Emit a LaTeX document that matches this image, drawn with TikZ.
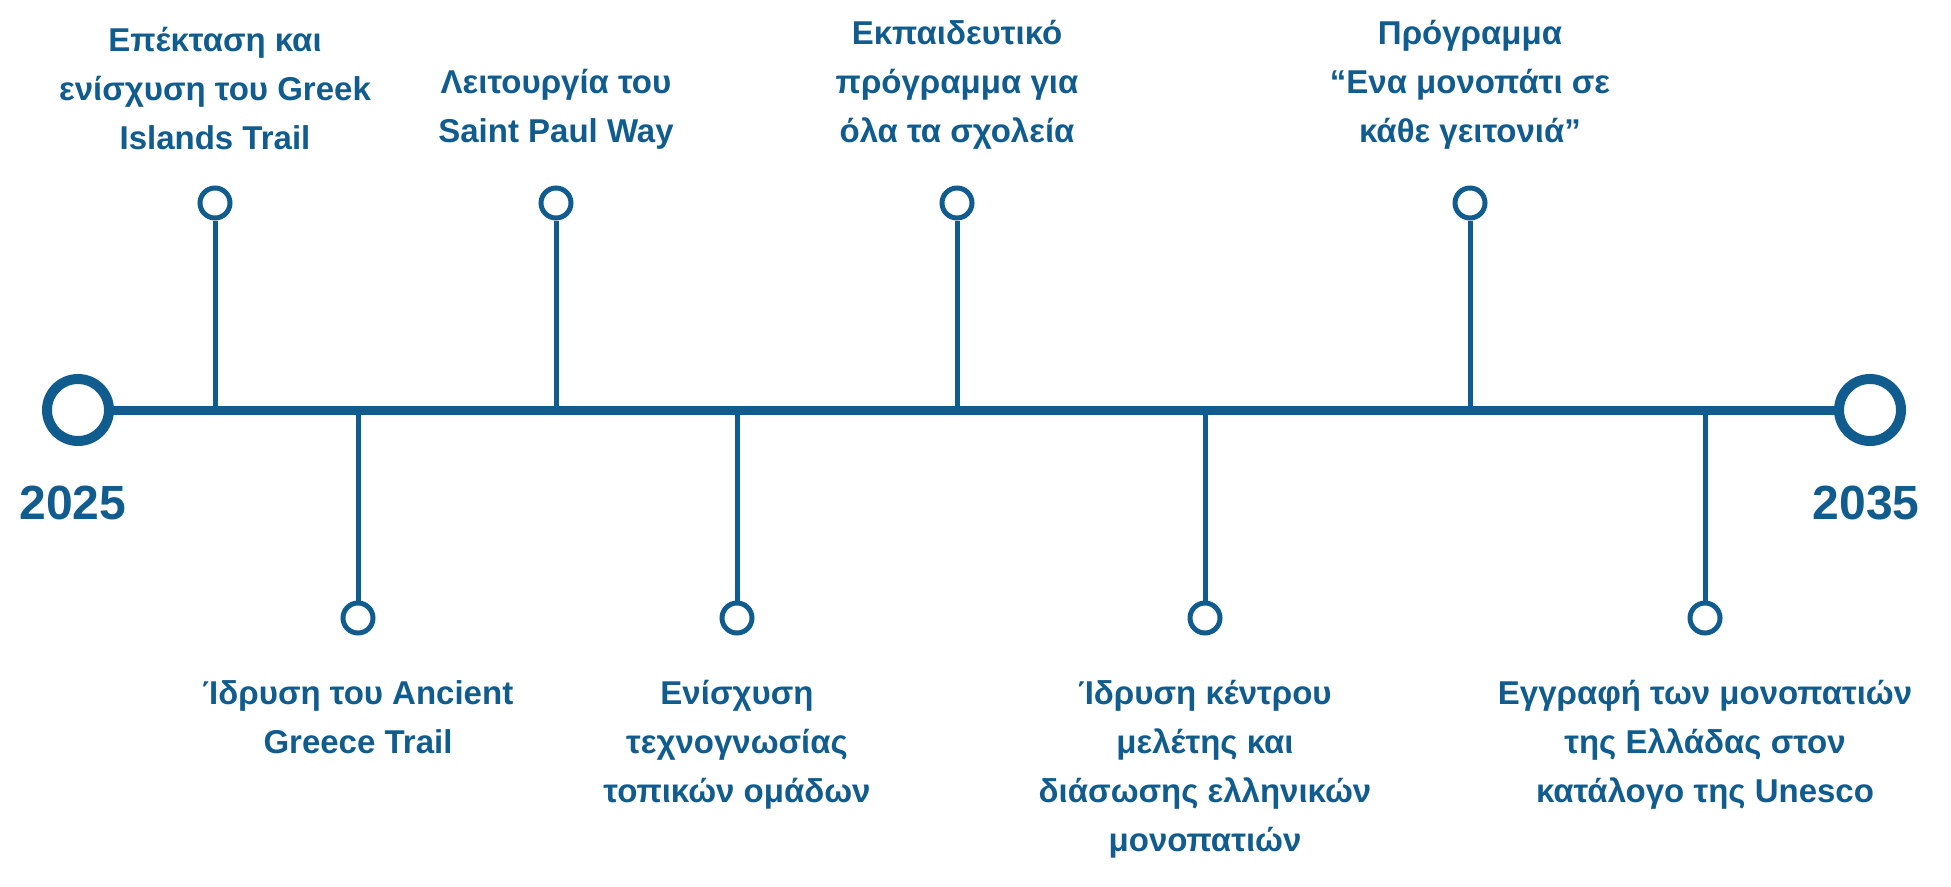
\documentclass[tikz,border=0pt]{standalone}
\usepackage{fontspec}
\setmainfont{Liberation Sans}
\definecolor{tl}{HTML}{115C8E}
\begin{document}
\begin{tikzpicture}[x=1pt,y=-1pt,
  lbl/.style={text=tl,font=\fontsize{33}{49}\selectfont\bfseries,align=center,inner sep=0pt},
  yr/.style={text=tl,font=\fontsize{48}{56}\selectfont\bfseries,inner sep=0pt},
  small/.style={circle,draw=tl,line width=5pt,fill=white,minimum size=30pt,inner sep=0pt},
  big/.style={circle,draw=tl,line width=10pt,fill=white,minimum size=62pt,inner sep=0pt},
  stem/.style={draw=tl,line width=5pt}]
\useasboundingbox (0,0) rectangle (1951,886);
\coordinate (L) at (78,410);
\coordinate (R) at (1870,410);
\draw[tl,line width=9pt] (L) -- (R);
\node[big] (s) at (L) {};
\node[big] (e) at (R) {};
\node[yr] (y1) at (73,503) {2025};
\node[yr] (y2) at (1866,503) {2035};
\foreach \n/\x in {a/215,b/556,c/957,d/1470}{
  \coordinate (\n0) at (\x,410);
  \node[small] (\n) at (\x,203) {};
  \draw[stem] (\n0) -- (\n.south);
}
\foreach \n/\x in {p/358,q/737,r/1205,t/1705}{
  \coordinate (\n0) at (\x,410);
  \node[small] (\n) at (\x,618) {};
  \draw[stem] (\n0) -- (\n.north);
}
\node[lbl,anchor=south] (ta) at (215,150) {Επέκταση και\\ενίσχυση του Greek\\Islands Trail};
\node[lbl,anchor=south] (tb) at (556,150) {Λειτουργία του\\Saint Paul Way};
\node[lbl,anchor=south] (tc) at (957,150) {Εκπαιδευτικό\\πρόγραμμα για\\όλα τα σχολεία};
\node[lbl,anchor=south] (td) at (1470,150) {Πρόγραμμα\\“Ενα μονοπάτι σε\\κάθε γειτονιά”};
\node[lbl,anchor=north] (tp) at (358,680) {Ίδρυση του Ancient\\Greece Trail};
\node[lbl,anchor=north] (tq) at (737,680) {Ενίσχυση\\τεχνογνωσίας\\τοπικών ομάδων};
\node[lbl,anchor=north] (tr) at (1205,680) {Ίδρυση κέντρου\\μελέτης και\\διάσωσης ελληνικών\\μονοπατιών};
\node[lbl,anchor=north] (tt) at (1705,680) {Εγγραφή των μονοπατιών\\της Ελλάδας στον\\κατάλογο της Unesco};
\end{tikzpicture}
\end{document}
